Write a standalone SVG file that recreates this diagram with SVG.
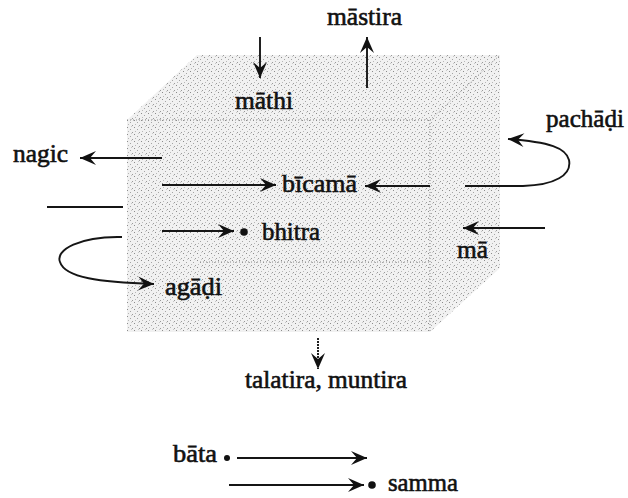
<svg xmlns="http://www.w3.org/2000/svg" width="628" height="498" viewBox="0 0 628 498">
<style>
.t{font-family:"Liberation Serif","Times New Roman",serif;font-size:25px;fill:#111;stroke:#111;stroke-width:0.6;}
.c{fill:none;stroke:#151515;stroke-width:1.9;}
.e{fill:none;stroke:#8a8a8a;stroke-width:1;stroke-dasharray:1 2;}
.d{fill:#111;}
</style>
<defs>
<pattern id="stip" width="7" height="7" patternUnits="userSpaceOnUse">
<rect width="7" height="7" fill="#f1f1f1"/>
<rect x="1" y="1" width="1" height="1" fill="#8c8c8c"/>
<rect x="4" y="3" width="1" height="1" fill="#a5a5a5"/>
<rect x="2" y="5" width="1" height="1" fill="#b8b8b8"/>
<rect x="6" y="6" width="1" height="1" fill="#9a9a9a"/>
<rect x="5" y="0" width="1" height="1" fill="#c8c8c8"/>
</pattern>
<marker id="ah" viewBox="-17 -8 18 16" refX="0" refY="0" markerWidth="18" markerHeight="16" markerUnits="userSpaceOnUse" orient="auto">
<path d="M0,0 L-16,-7 L-10,0 L-16,7 Z" fill="#111"/>
</marker>
</defs>

<g id="box">
<polygon points="127,120 197,55 500,55 500,268 430,332 127,332" fill="url(#stip)"/>
<path class="e" d="M127,120 H430 V332 M430,120 L500,55 M200,262 H430"/>
</g>

<g id="connectors">
<line class="c" x1="260" y1="37" x2="260" y2="78" marker-end="url(#ah)"/>
<line class="c" x1="367" y1="88" x2="367" y2="37" marker-end="url(#ah)"/>
<line class="c" x1="162" y1="158" x2="80" y2="158" marker-end="url(#ah)"/>
<line class="c" x1="162" y1="185" x2="276" y2="185" marker-end="url(#ah)"/>
<line class="c" x1="430" y1="186" x2="365" y2="186" marker-end="url(#ah)"/>
<path class="c" d="M465,186 L523,186 C555,185 572,175 569,160 C566,148 550,142 508,139" marker-end="url(#ah)"/>
<line class="c" x1="47" y1="207" x2="123" y2="207"/>
<line class="c" x1="162" y1="231" x2="234" y2="231" marker-end="url(#ah)"/>
<path class="c" d="M122,237 C80,236 55,250 60,262 C65,278 100,282 154,284" marker-end="url(#ah)"/>
<line class="c" x1="545" y1="228" x2="463" y2="228" marker-end="url(#ah)"/>
<line class="c" x1="318" y1="338" x2="318" y2="369" stroke-dasharray="2 1" marker-end="url(#ah)"/>
<line class="c" x1="237" y1="458" x2="367" y2="458" marker-end="url(#ah)"/>
<line class="c" x1="229" y1="485" x2="364" y2="485" marker-end="url(#ah)"/>
</g>

<g id="mastira"><text class="t" x="327" y="25" textLength="75" lengthAdjust="spacingAndGlyphs">māstira</text></g>
<g id="mathi"><text class="t" x="235" y="109" textLength="58" lengthAdjust="spacingAndGlyphs">māthi</text></g>
<g id="nagic"><text class="t" x="13" y="162" textLength="55" lengthAdjust="spacingAndGlyphs">nagic</text></g>
<g id="pachadi"><text class="t" x="546" y="127" textLength="78" lengthAdjust="spacingAndGlyphs">pachāḍi</text></g>
<g id="bicama"><text class="t" x="282" y="192" textLength="75" lengthAdjust="spacingAndGlyphs">bīcamā</text></g>
<g id="bhitra"><circle class="d" cx="244" cy="232" r="3.8"/><text class="t" x="262" y="240" textLength="58" lengthAdjust="spacingAndGlyphs">bhitra</text></g>
<g id="ma"><text class="t" x="457" y="258" textLength="31" lengthAdjust="spacingAndGlyphs">mā</text></g>
<g id="agadi"><text class="t" x="165" y="295" textLength="57" lengthAdjust="spacingAndGlyphs">agāḍi</text></g>
<g id="talatira"><text class="t" x="245" y="388" textLength="162" lengthAdjust="spacingAndGlyphs">talatira, muntira</text></g>
<g id="bata"><circle class="d" cx="227" cy="458" r="3"/><text class="t" x="173" y="462" textLength="44" lengthAdjust="spacingAndGlyphs">bāta</text></g>
<g id="samma"><circle class="d" cx="372" cy="485" r="3.8"/><text class="t" x="388" y="491" textLength="70" lengthAdjust="spacingAndGlyphs">samma</text></g>
</svg>
